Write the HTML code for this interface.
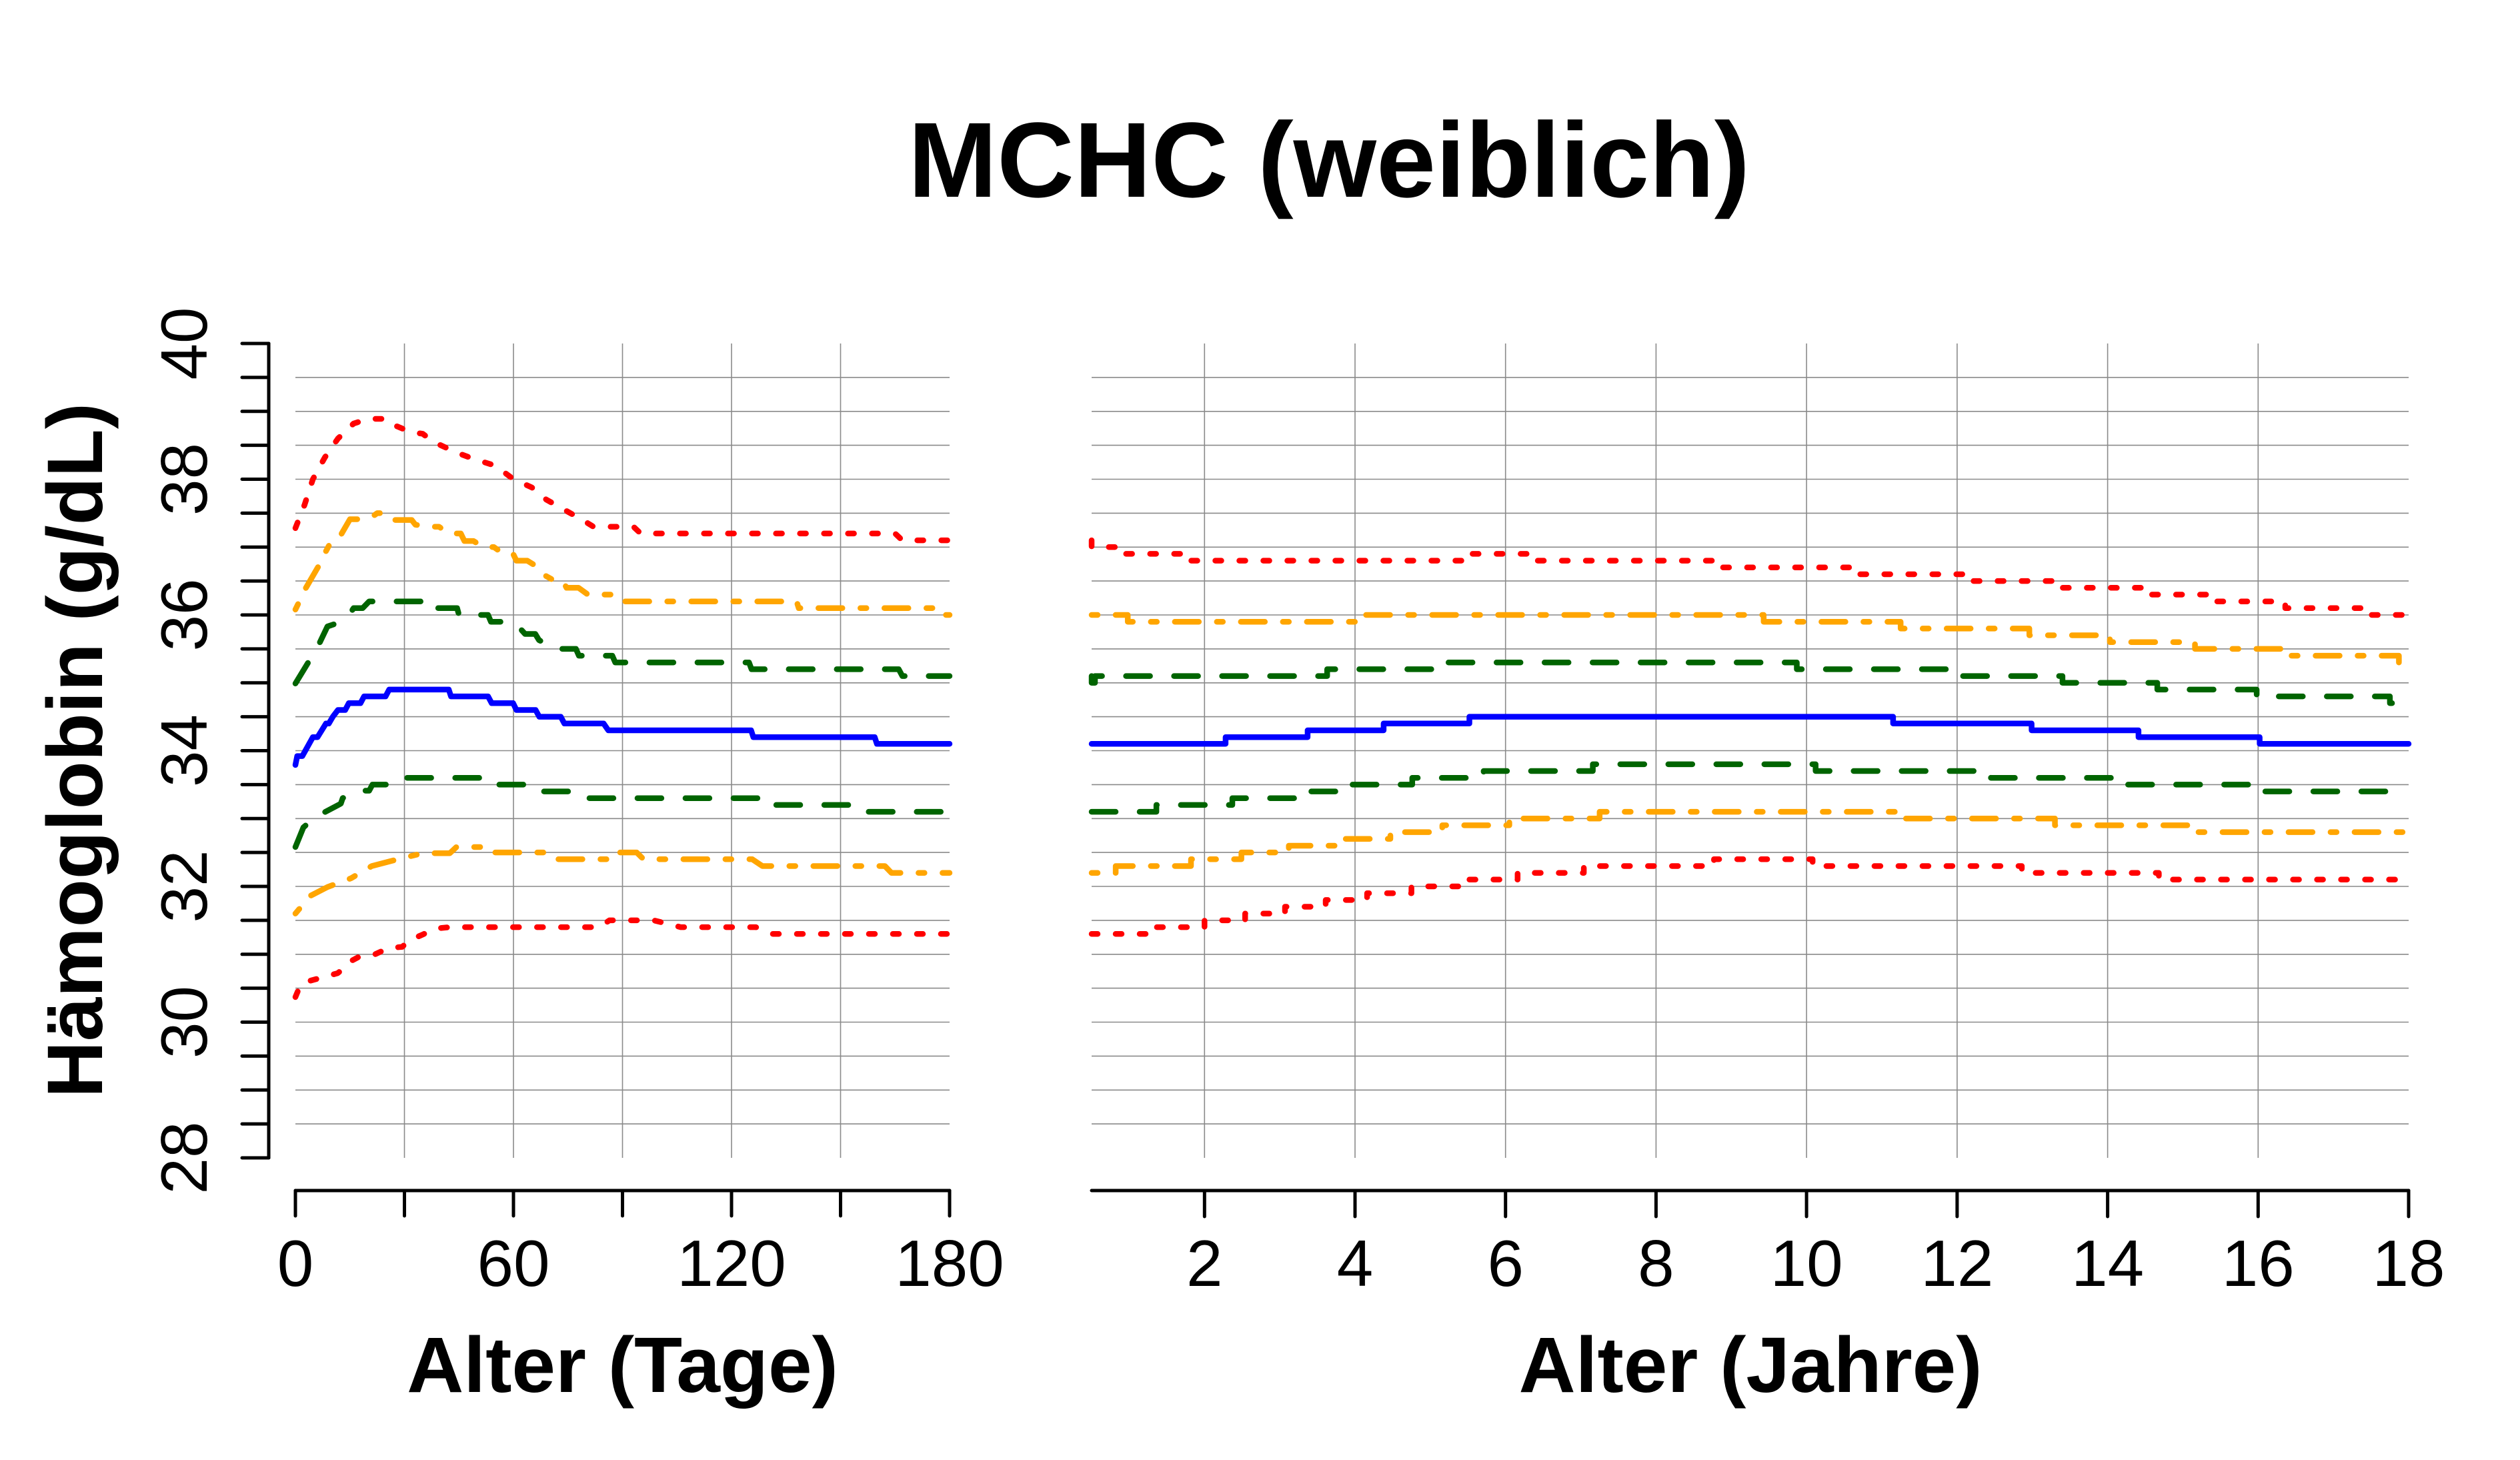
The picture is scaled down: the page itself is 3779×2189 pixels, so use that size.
<!DOCTYPE html>
<html>
<head>
<meta charset="utf-8">
<style>
html,body{margin:0;padding:0;background:#fff;}
svg{display:block;}
text{font-family:"Liberation Sans",Arial,sans-serif;fill:#000;}
</style>
</head>
<body>
<svg width="3779" height="2189" viewBox="0 0 3779 2189" xmlns="http://www.w3.org/2000/svg">
<rect x="0" y="0" width="3779" height="2189" fill="#fff"/>

<!-- Title -->
<text x="1993" y="295" font-size="160" font-weight="bold" text-anchor="middle">MCHC (weiblich)</text>

<!-- Grid: left panel -->
<g stroke="#8a8a8a" stroke-width="1.6" fill="none">
<path d="M443 565.9H1424M443 616.8H1424M443 667.6H1424M443 718.5H1424M443 769.4H1424M443 820.3H1424M443 871.1H1424M443 922H1424M443 972.9H1424M443 1023.8H1424M443 1074.6H1424M443 1125.5H1424M443 1176.4H1424M443 1227.3H1424M443 1278.1H1424M443 1329H1424M443 1379.9H1424M443 1430.8H1424M443 1481.6H1424M443 1532.5H1424M443 1583.4H1424M443 1634.3H1424M443 1685.1H1424"/>
<path d="M606.5 515V1736M770 515V1736M933.5 515V1736M1097 515V1736M1260.5 515V1736"/>
<!-- Grid: right panel -->
<path d="M1637 565.9H3612M1637 616.8H3612M1637 667.6H3612M1637 718.5H3612M1637 769.4H3612M1637 820.3H3612M1637 871.1H3612M1637 922H3612M1637 972.9H3612M1637 1023.8H3612M1637 1074.6H3612M1637 1125.5H3612M1637 1176.4H3612M1637 1227.3H3612M1637 1278.1H3612M1637 1329H3612M1637 1379.9H3612M1637 1430.8H3612M1637 1481.6H3612M1637 1532.5H3612M1637 1583.4H3612M1637 1634.3H3612M1637 1685.1H3612"/>
<path d="M1806.3 515V1736M2032 515V1736M2257.7 515V1736M2483.4 515V1736M2709.1 515V1736M2934.9 515V1736M3160.6 515V1736M3386.3 515V1736"/>
</g>

<!-- Axes -->
<g stroke="#000" stroke-width="5" fill="none" stroke-linecap="round" stroke-linejoin="round">
<path d="M403 515V1736"/>
<path d="M363 515H403M363 565.9H403M363 616.8H403M363 667.6H403M363 718.5H403M363 769.4H403M363 820.3H403M363 871.1H403M363 922H403M363 972.9H403M363 1023.8H403M363 1074.6H403M363 1125.5H403M363 1176.4H403M363 1227.3H403M363 1278.1H403M363 1329H403M363 1379.9H403M363 1430.8H403M363 1481.6H403M363 1532.5H403M363 1583.4H403M363 1634.3H403M363 1685.1H403M363 1736H403"/>
<path d="M443 1785H1424"/>
<path d="M443 1785V1823M606.5 1785V1823M770 1785V1823M933.5 1785V1823M1097 1785V1823M1260.5 1785V1823M1424 1785V1823"/>
<path d="M1637 1785H3612"/>
<path d="M1806.3 1785V1824M2032 1785V1824M2257.7 1785V1824M2483.4 1785V1824M2709.1 1785V1824M2934.9 1785V1824M3160.6 1785V1824M3386.3 1785V1824M3612 1785V1824"/>
</g>

<!-- Y tick labels -->
<g font-size="98" text-anchor="middle">
<text transform="translate(310,515) rotate(-90)">40</text>
<text transform="translate(310,718.5) rotate(-90)">38</text>
<text transform="translate(310,922) rotate(-90)">36</text>
<text transform="translate(310,1125.5) rotate(-90)">34</text>
<text transform="translate(310,1329) rotate(-90)">32</text>
<text transform="translate(310,1532.5) rotate(-90)">30</text>
<text transform="translate(310,1736) rotate(-90)">28</text>
</g>

<!-- X tick labels -->
<g font-size="98" text-anchor="middle">
<text x="443" y="1928">0</text>
<text x="770" y="1928">60</text>
<text x="1097" y="1928">120</text>
<text x="1424" y="1928">180</text>
<text x="1806.3" y="1928">2</text>
<text x="2032" y="1928">4</text>
<text x="2257.7" y="1928">6</text>
<text x="2483.4" y="1928">8</text>
<text x="2709.1" y="1928">10</text>
<text x="2934.9" y="1928">12</text>
<text x="3160.6" y="1928">14</text>
<text x="3386.3" y="1928">16</text>
<text x="3612" y="1928">18</text>
</g>

<!-- Axis titles -->
<g font-size="118" font-weight="bold" text-anchor="middle">
<text x="933.5" y="2087">Alter (Tage)</text>
<text x="2625" y="2087">Alter (Jahre)</text>
<text transform="translate(153,1125) rotate(-90)">Hämoglobin (g/dL)</text>
</g>

<!-- Series -->
<g fill="none" stroke-width="8.5" stroke-linecap="round" stroke-linejoin="round">
<!-- Red upper (dotted) -->
<path stroke="#ff0000" stroke-dasharray="9 27" d="M443 791.8L456.6 757.2L469.2 718.5L487.1 685.9L506.8 657.5L530.2 635.1L552 628L579.3 628L590.2 637.1L617.4 648.3L633.8 650.3L650.1 662.5L682.8 677.8L710 688L742.8 698.2L770 718.5L797.3 730.7L819.1 749L846.3 764.3L873.6 779.6L889.9 789.7L949.9 789.7L960.8 799.9L1342.3 799.9L1353.2 810.1L1424 810.1"/>
<path stroke="#ff0000" stroke-dasharray="9 27" d="M1637 810.1V820.3H1676.5V830.4H1783.7V840.6H2195.6V830.4H2296.1V840.6H2573.7V850.8H2779.1V861H2942.8V871.1H3085V881.3H3213.7V891.5H3320.9V901.7H3427V911.8H3547.8V922H3612"/>

<!-- Orange upper (dot-dash) -->
<path stroke="#ffa500" stroke-dasharray="9 27 36 27" d="M443 913.9L458.8 881.3L480.1 844.7L488.8 826.4L495.9 813.1L510.6 803L524.8 778.5L537.3 778.5L558.5 774.5L565.6 769.4L573.8 769.4L585.2 779.6L617.4 779.6L622.9 786.7L644.1 789.7L658.3 789.7L673 799.9L691 799.9L696.4 811.1L710 811.1L724.8 820.3L740.6 820.3L755.3 830.4L769.5 830.4L774.4 840.6L790.7 840.6L807.1 850.8L815.8 862L832.1 871.1L844.1 871.1L849.6 881.3L867.6 881.3L881.7 891.5L917.2 891.5L925.3 901.7L1194.6 901.7L1197.8 911.8L1403.3 911.8L1407.7 922L1424 922"/>
<path stroke="#ffa500" stroke-dasharray="9 27 36 27" d="M1637 922H1691.2V932.2H2032V922H2644.8V932.2H2850.2V942.4H3043.2V952.5H3164V962.7H3291.6V972.9H3427V983.1H3597.4V993.2H3612"/>

<!-- Green upper (dashed) -->
<path stroke="#006400" stroke-dasharray="36 36" d="M443 1024.8L465.3 988.1L478.4 965.7L491 939.3L503 935.2L524.8 920L530.2 911.8L543.8 911.8L553.6 901.7L639.2 901.7L639.7 911.8L685.5 911.8L688.3 922L731.9 922L736.2 932.2L764.6 932.2L778.2 940.3L787.4 950.5L802.7 950.5L808.2 959.6L832.1 972.9L863.7 972.9L868.1 983.1L918.2 983.1L922.6 993.2L1123.2 993.2L1127 1003.4L1347.7 1003.4L1353.2 1013.6L1424 1013.6"/>
<path stroke="#006400" stroke-dasharray="36 36" d="M1637 1013.6V1023.8H1642V1013.6H1990.2V1003.4H2160.7V993.2H2694.5V1003.4H2929.2V1013.6H3092.9V1023.8H3235.1V1033.9H3384.1V1044.1H3583.9V1054.3H3612"/>

<!-- Blue median (solid) -->
<path stroke="#0000ff" d="M443 1146.9L445.7 1133.6L453.4 1133.6L469.2 1105.2L476.2 1105.2L488.8 1084.8L493.1 1084.8L499.1 1074.6L506.8 1064.5L517.7 1064.5L523.1 1054.3L540.6 1054.3L546 1044.1L578.2 1044.1L583.6 1033.9L673 1033.9L676.3 1044.1L731.9 1044.1L737.3 1054.3L769.5 1054.3L774.4 1064.5L803.2 1064.5L808.7 1074.6L840.9 1074.6L846.3 1084.8L905.2 1084.8L912.2 1095L1126.4 1095L1129.7 1105.2L1311.7 1105.2L1315 1115.3L1424 1115.3"/>
<path stroke="#0000ff" d="M1637 1115.3H1837.9V1105.2H1960.9V1095H2074.9V1084.8H2203.5V1074.6H2838.9V1084.8H3046.6V1095H3206.9V1105.2H3388.6V1115.3H3612"/>

<!-- Green lower (dashed) -->
<path stroke="#006400" stroke-dasharray="36 36" d="M443 1270L455 1240.5L470.3 1227.3L486.1 1218.1L511.1 1204.9L513.9 1196.7L537.3 1185.5L553.6 1185.5L558.5 1176.4L579.3 1176.4L590.2 1166.2L739 1166.2L745 1176.4L786.4 1176.4L794.5 1186.6L868.1 1186.6L879 1196.7L1148.8 1196.7L1151.5 1206.9L1291.6 1206.9L1298.7 1217.1L1424 1217.1"/>
<path stroke="#006400" stroke-dasharray="36 36" d="M1637 1217.1H1734.1V1206.9H1848V1196.7H1960.9V1186.6H2018.5V1176.4H2117.8V1166.2H2224.9V1156H2388.6V1145.9H2722.7V1156H2985.6V1166.2H3185.4V1176.4H3392V1186.6H3612"/>

<!-- Orange lower (dot-dash) -->
<path stroke="#ffa500" stroke-dasharray="9 27 36 27" d="M443 1369.7L465.3 1343.2L491 1330L526.4 1316.8L557.5 1298.5L592.9 1289.3L633.8 1279.2L674.6 1279.2L684.4 1270L725.3 1270L730.8 1278.1L817.4 1278.1L827.2 1288.3L919.3 1288.3L924.2 1278.1L954.8 1278.1L965.1 1288.3L1128.1 1288.3L1143.3 1298.5L1327 1298.5L1336.8 1308.7L1424 1308.7"/>
<path stroke="#ffa500" stroke-dasharray="9 27 36 27" d="M1637 1308.7H1673.1V1298.5H1786V1288.3H1861.6V1278.1H1932.7V1268H2015.1V1257.8H2085V1247.6H2162.9V1237.4H2263.4V1227.3H2398.8V1217.1H2853.6V1227.3H3081.6V1237.4H3295V1247.6H3612"/>

<!-- Red lower (dotted) -->
<path stroke="#ff0000" stroke-dasharray="9 27" d="M443 1494.9L450.1 1477.6L465.3 1470.4L491 1463.3L506.2 1459.2L516.6 1451.1L526.4 1440.9L541.6 1432.8L562.4 1430.8L582.5 1421.6L603.2 1419.6L613 1410.4L633.8 1401.2L653.9 1392.1L674.6 1390.1L898.6 1390.1L913.9 1379.9L980.4 1379.9L1020.7 1390.1L1133.5 1390.1L1158.6 1400.2L1424 1400.2"/>
<path stroke="#ff0000" stroke-dasharray="9 27" d="M1637 1400.2H1726.2V1390.1H1806.3V1379.9H1867.2V1369.7H1927V1359.5H1988V1349.4H2050.1V1339.2H2116.6V1329H2195.6V1318.8H2275.8V1308.7H2375.1V1298.5H2570.3V1288.3H2718.2V1298.5H3031.9V1308.7H3237.4V1318.8H3612"/>
</g>
</svg>
</body>
</html>
